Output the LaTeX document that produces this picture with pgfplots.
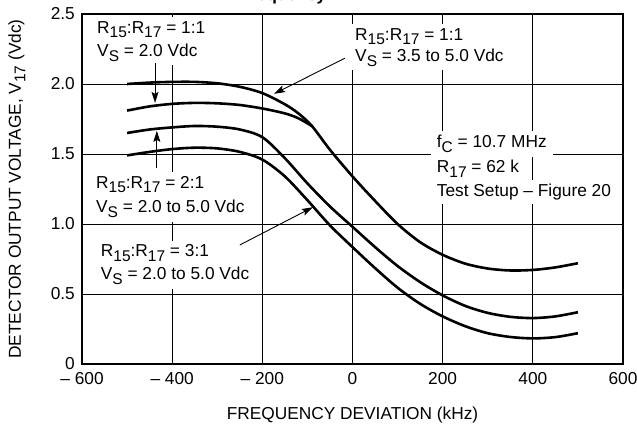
\documentclass[border=0pt]{standalone}
\usepackage{fontspec}
\setmainfont{Liberation Sans}
\usepackage{pgfplots}
\pgfplotsset{compat=1.18}
\usetikzlibrary{arrows.meta}

% large, lowered subscripts as used in the data sheet
\newcommand\sub[1]{\raisebox{-4.5bp}{\fontsize{15.5bp}{15.5bp}\selectfont #1}}
\newcommand\lblfont{\fontsize{17.3bp}{20bp}\selectfont}

\tikzset{
  lbl/.style={anchor=base west, fill=white, inner xsep=6bp, inner ysep=4bp,
              xshift=-6bp, font=\lblfont},
  arr/.style={-{Stealth[length=11bp,width=7bp,inset=2bp]}, line width=0.9bp},
  curve/.style={black, line width=2.6bp, smooth, no marks},
}

\begin{document}
\begin{tikzpicture}
\begin{axis}[
  at={(0,0)}, anchor=south west,
  width=541bp, height=350bp, scale only axis,
  xmin=-600, xmax=600, ymin=0, ymax=2.5,
  xtick={-600,-400,-200,0,200,400,600},
  xticklabels={– 600,– 400,– 200,0,200,400,600},
  ytick={0,0.5,1,1.5,2,2.5},
  yticklabels={0,0.5,1.0,1.5,2.0,2.5},
  grid=major,
  major grid style={black, line width=0.8bp},
  major tick length=0pt,
  axis line style={line width=1.3bp},
  tick label style={font=\lblfont},
  xticklabel style={anchor=north, inner sep=0pt, yshift=-8bp},
  yticklabel style={anchor=east, inner sep=0pt, xshift=-7bp},
]

% annotation texts, each line on its own white box
\node[lbl] at (axis cs:-566.7,2.364) {R\sub{15}:R\sub{17} = 1:1};
\node[lbl] at (axis cs:-566.7,2.195) {V\sub{S} = 2.0 Vdc};

\node[lbl] at (axis cs:5.6,2.314) {R\sub{15}:R\sub{17} = 1:1};
\node[lbl] at (axis cs:5.6,2.160) {V\sub{S} = 3.5 to 5.0 Vdc};

\node[lbl] at (axis cs:186.8,1.543) {f\sub{C} = 10.7 MHz};
\node[lbl] at (axis cs:186.8,1.366) {R\sub{17} = 62 k};
\node[lbl] at (axis cs:186.8,1.195) {Test Setup – Figure 20};

\node[lbl] at (axis cs:-569,1.257) {R\sub{15}:R\sub{17} = 2:1};
\node[lbl] at (axis cs:-569,1.079) {V\sub{S} = 2.0 to 5.0 Vdc};

\node[lbl] at (axis cs:-558.5,0.766) {R\sub{15}:R\sub{17} = 3:1};
\node[lbl] at (axis cs:-558.5,0.600) {V\sub{S} = 2.0 to 5.0 Vdc};

% R15:R17 = 1:1, VS = 3.5 to 5.0 Vdc
\addplot[curve] coordinates {
  (-500,2.00) (-450,2.01) (-400,2.015) (-350,2.015) (-300,2.005)
  (-250,1.98) (-200,1.935) (-150,1.855) (-120,1.79) (-90,1.70)
  (-50,1.53) (0,1.34) (50,1.165) (100,1.00) (150,0.87) (200,0.78)
  (250,0.717) (300,0.682) (350,0.668) (400,0.672) (450,0.69) (500,0.72)
};
% R15:R17 = 1:1, VS = 2.0 Vdc (joins the curve above)
\addplot[curve] coordinates {
  (-500,1.81) (-450,1.84) (-400,1.858) (-350,1.865) (-300,1.862)
  (-250,1.85) (-200,1.825) (-150,1.79) (-120,1.755) (-90,1.70)
};
% R15:R17 = 2:1
\addplot[curve] coordinates {
  (-500,1.65) (-450,1.675) (-400,1.69) (-350,1.70) (-300,1.695)
  (-250,1.675) (-200,1.62) (-150,1.47) (-100,1.29) (-50,1.125)
  (0,0.98) (50,0.835) (100,0.70) (150,0.585) (200,0.49) (250,0.415)
  (300,0.365) (350,0.337) (400,0.328) (450,0.34) (500,0.37)
};
% R15:R17 = 3:1
\addplot[curve] coordinates {
  (-500,1.49) (-450,1.515) (-400,1.535) (-350,1.545) (-300,1.54)
  (-250,1.515) (-200,1.46) (-150,1.34) (-100,1.17) (-50,0.99)
  (0,0.835) (50,0.685) (100,0.545) (150,0.43) (200,0.34) (250,0.27)
  (300,0.22) (350,0.193) (400,0.183) (450,0.192) (500,0.22)
};

% pointers from the texts to their curves
\draw[arr] (axis cs:-438,2.15) -- (axis cs:-438,1.865);
\draw[arr] (axis cs:-434,1.40) -- (axis cs:-434,1.665);
\draw[arr] (axis cs:-17,2.184) -- (axis cs:-174,1.93);
\draw[arr] (axis cs:-250,0.85) -- (axis cs:-88,1.12);
\end{axis}

% axis titles
\node[rotate=90, anchor=base, font=\lblfont] at (-61bp,175bp)
  {DETECTOR OUTPUT VOLTAGE, V\sub{17} (Vdc)};
\node[anchor=base, font=\lblfont] at (270.5bp,-55bp) {FREQUENCY DEVIATION (kHz)};
% lower edge of the figure title
\node[anchor=base west, inner sep=0pt, font=\bfseries\fontsize{17bp}{17bp}\selectfont]
  at (158bp,363.5bp) {Frequency};

\pgfresetboundingbox
\useasboundingbox (-82bp,-64bp) rectangle (555bp,364bp);
\end{tikzpicture}
\end{document}
